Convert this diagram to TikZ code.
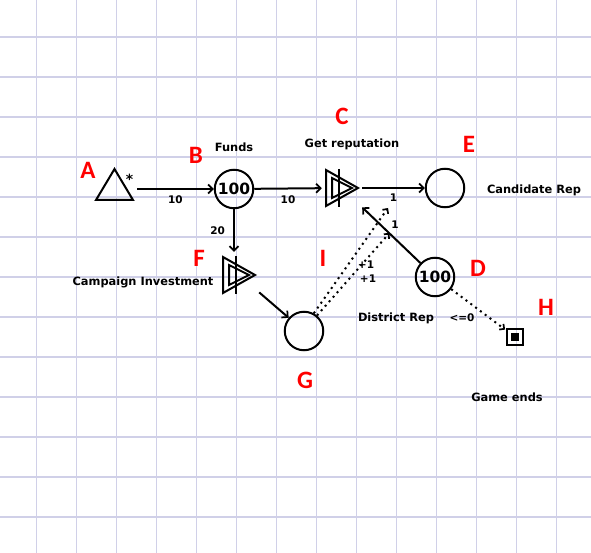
\documentclass[tikz,border=0pt]{standalone}
\usepackage{fontspec}
\setmainfont{DejaVu Sans}
\newfontfamily\tagfont{Carlito}
\usetikzlibrary{arrows.meta}
\definecolor{gridc}{RGB}{208,208,232}
\definecolor{tagred}{RGB}{255,0,0}
\newcommand\convdraw[1]{%
  \draw[line width=2pt,line join=miter]
    ([shift={(-16,-18)}]#1.center) -- ([shift={(16,0)}]#1.center) -- ([shift={(-16,18)}]#1.center) -- cycle;
  \draw[line width=2pt,line join=miter]
    ([shift={(-10,-10)}]#1.center) -- ([shift={(10,0)}]#1.center) -- ([shift={(-10,10)}]#1.center) -- cycle;
  \draw[line width=2pt] ([shift={(-3.5,-19)}]#1.center) -- ([shift={(-3.5,19)}]#1.center);}
\begin{document}
\begin{tikzpicture}[x=1pt,y=-1pt,
  txt/.style={font=\bfseries\fontsize{11.4}{13}\selectfont,inner sep=0pt},
  elab/.style={font=\bfseries\fontsize{10.5}{12}\selectfont,inner sep=0pt},
  tag/.style={text=tagred,font=\tagfont\bfseries\fontsize{25}{28}\selectfont,inner sep=0pt},
  pool/.style={circle,draw,line width=2pt,minimum size=38.5pt,inner sep=0pt,font=\bfseries\fontsize{15.5}{16}\selectfont},
  conv/.style={minimum width=40pt,minimum height=46pt,inner sep=0pt},
  flow/.style={line width=2pt,-{Straight Barb[length=4.5pt,width=9pt,line width=1.7pt]}},
  statecon/.style={line width=2pt,dash pattern=on 2pt off 4pt,-{Straight Barb[length=3.5pt,width=7pt,line width=1.7pt]}},
]
\useasboundingbox (0,0) rectangle (591,553);
\fill[white] (0,0) rectangle (591,553);
% grid
\foreach \gx in {36.5,76.5,116.5,156.5,196.5,236.5,276.5,316.5,356.5,396.5,436.5,476.5,516.5,556.5}
  \draw[gridc,line width=1.4pt] (\gx,0) -- (\gx,553);
\foreach \gy in {37,77,117,157,197,237,277,317,357,397,437,477,517}
  \draw[gridc,line width=1.4pt] (0,\gy) -- (591,\gy);

% nodes
\node[minimum width=46pt,minimum height=34pt,inner sep=0pt] (A) at (114,189) {};
\draw[line width=2pt,line join=miter] (96,200) -- (133,200) -- (114.5,169) -- cycle;
\node[font=\bfseries\fontsize{14}{15}\selectfont,inner sep=0pt] (star) at (129.5,179) {*};
\node[pool] (B) at (234,189) {100};
\node[conv] (C) at (342,188) {};
\convdraw{C}
\node[pool] (E) at (445,188) {};
\node[pool] (D) at (435,277) {100};
\node[conv] (F) at (239,275) {};
\convdraw{F}
\node[pool] (G) at (304,331) {};
\node[draw,line width=2.2pt,minimum size=16pt,inner sep=0pt] (H) at (515,337) {};
\fill (511,333) rectangle (519,341);

% text labels
\node[txt] (tfunds) at (234,147) {Funds};
\node[txt] (tget) at (352,144) {Get reputation};
\node[txt] (tcand) at (534,190) {Candidate Rep};
\node[txt] (tcamp) at (143,282) {Campaign Investment};
\node[txt] (tdist) at (396,318) {District Rep};
\node[txt] (tgame) at (507,397) {Game ends};

% tags
\node[tag] (tA) at (88,170) {A};
\node[tag] (tB) at (196,155) {B};
\node[tag] (tC) at (342,116) {C};
\node[tag] (tE) at (469,144) {E};
\node[tag] (tF) at (199,258) {F};
\node[tag] (tD) at (478,268) {D};
\node[tag] (tH) at (546,307) {H};
\node[tag] (tI) at (323,258) {I};
\node[tag] (tG) at (305,380) {G};

% connectors
\draw[flow] (A) -- node[elab,below=6pt] (l1) {10} (B);
\draw[flow] (B) -- node[elab,below=6pt] (l2) {10} (C);
\draw[flow] (B.south) -- node[elab,left=8pt] (l3) {20} (B.south |- F.north);
\draw[flow] (C) -- node[elab,below=5pt] (l4) {1} (E);
\draw[flow] (F) -- (G);
\draw[flow] (D) -- (C);
\coordinate (cemod) at (388,208);
\coordinate (dcmod) at (389.5,233);
\node[elab] (l5) at (395,225) {1};
\draw[statecon] (G.61) -- (cemod);
\draw[statecon] (G.50) -- (dcmod);
\node[elab] (l6) at (366,265) {+1};
\node[elab] (l7) at (368,279) {+1};
\draw[statecon,shorten >=1pt] (D) -- (H);
\node[elab] (l8) at (462,318) {<=0};
\end{tikzpicture}
\end{document}
